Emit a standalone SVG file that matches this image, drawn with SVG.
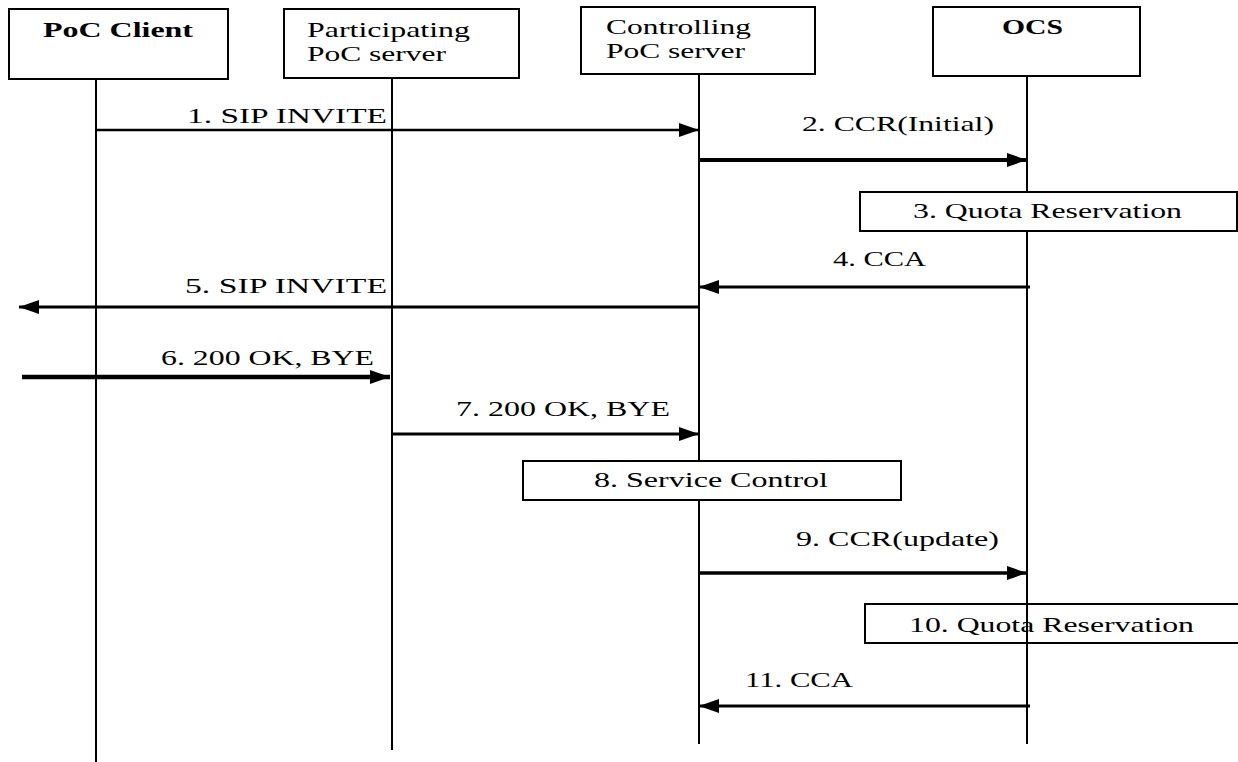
<svg xmlns="http://www.w3.org/2000/svg" width="1238" height="762" viewBox="0 0 1238 762">
<style>
.box{fill:#fff;stroke:#000;stroke-width:2}
.open{fill:none;stroke:#000;stroke-width:2}
.life{stroke:#000;stroke-width:2;fill:none}
.t{font-family:"Liberation Serif","Times New Roman",serif;font-size:21px;fill:#000}
.b{font-weight:bold}
.msg{stroke:#000;fill:none}
</style>
<defs>
<marker id="ah" viewBox="0 0 20 14" markerWidth="20" markerHeight="14" refX="20" refY="7" orient="auto" markerUnits="userSpaceOnUse">
<path d="M0,0 L20,7 L0,14 Z" fill="#000"/>
</marker>
</defs>
<rect width="1238" height="762" fill="#fff"/>
<g id="lifelines">
<line class="life" x1="96" y1="79" x2="96" y2="762"/>
<line class="life" x1="392" y1="78" x2="392" y2="750"/>
<line class="life" x1="699" y1="74" x2="699" y2="744"/>
<line class="life" x1="1027" y1="76" x2="1027" y2="744"/>
</g>
<g id="poc-client">
<rect class="box" x="9" y="9" width="219" height="70"/>
<text class="t b" x="43" y="37" textLength="150" lengthAdjust="spacingAndGlyphs">PoC Client</text>
</g>
<g id="participating-server">
<rect class="box" x="284" y="9" width="235" height="69"/>
<text class="t" x="307" y="37" textLength="163" lengthAdjust="spacingAndGlyphs">Participating</text>
<text class="t" x="307" y="61" textLength="139" lengthAdjust="spacingAndGlyphs">PoC server</text>
</g>
<g id="controlling-server">
<rect class="box" x="581" y="7" width="234" height="67"/>
<text class="t" x="606" y="34" textLength="145" lengthAdjust="spacingAndGlyphs">Controlling</text>
<text class="t" x="606" y="58" textLength="139" lengthAdjust="spacingAndGlyphs">PoC server</text>
</g>
<g id="ocs">
<rect class="box" x="933" y="7" width="207" height="69"/>
<text class="t b" x="1002" y="34" textLength="61" lengthAdjust="spacingAndGlyphs">OCS</text>
</g>
<g id="quota-reservation-1">
<rect class="box" x="860" y="192" width="377" height="39"/>
<text class="t" x="913" y="218" textLength="269" lengthAdjust="spacingAndGlyphs">3. Quota Reservation</text>
</g>
<g id="service-control">
<rect class="box" x="523" y="461" width="378" height="39"/>
<text class="t" x="594" y="487" textLength="234" lengthAdjust="spacingAndGlyphs">8. Service Control</text>
</g>
<g id="quota-reservation-2">
<rect class="open" x="865" y="604" width="376" height="39"/>
<text class="t" x="909" y="632" textLength="285" lengthAdjust="spacingAndGlyphs">10. Quota Reservation</text>
<line class="life" x1="1027" y1="603" x2="1027" y2="644"/>
</g>
<g id="connectors">
<line class="msg" x1="96" y1="130" x2="699" y2="130" stroke-width="2.5" marker-end="url(#ah)"/>
<text class="t" x="187" y="123" textLength="200" lengthAdjust="spacingAndGlyphs">1. SIP  INVITE</text>
<line class="msg" x1="699" y1="160" x2="1027" y2="160" stroke-width="4" marker-end="url(#ah)"/>
<text class="t" x="802" y="131" textLength="192" lengthAdjust="spacingAndGlyphs">2. CCR(Initial)</text>
<line class="msg" x1="1030" y1="287" x2="699" y2="287" stroke-width="3" marker-end="url(#ah)"/>
<text class="t" x="833" y="266" textLength="93" lengthAdjust="spacingAndGlyphs">4. CCA</text>
<line class="msg" x1="699" y1="307" x2="19" y2="307" stroke-width="3" marker-end="url(#ah)"/>
<text class="t" x="185" y="293" textLength="202" lengthAdjust="spacingAndGlyphs">5. SIP  INVITE</text>
<line class="msg" x1="22" y1="377" x2="390" y2="377" stroke-width="4.5" marker-end="url(#ah)"/>
<text class="t" x="161" y="365" textLength="213" lengthAdjust="spacingAndGlyphs">6. 200 OK, BYE</text>
<line class="msg" x1="392" y1="434" x2="699" y2="434" stroke-width="3" marker-end="url(#ah)"/>
<text class="t" x="456" y="416" textLength="214" lengthAdjust="spacingAndGlyphs">7. 200 OK, BYE</text>
<line class="msg" x1="699" y1="573" x2="1027" y2="573" stroke-width="3.5" marker-end="url(#ah)"/>
<text class="t" x="796" y="546" textLength="203" lengthAdjust="spacingAndGlyphs">9. CCR(update)</text>
<line class="msg" x1="1030" y1="706" x2="699" y2="706" stroke-width="3" marker-end="url(#ah)"/>
<text class="t" x="745" y="687" textLength="108" lengthAdjust="spacingAndGlyphs">11. CCA</text>
</g>
</svg>
